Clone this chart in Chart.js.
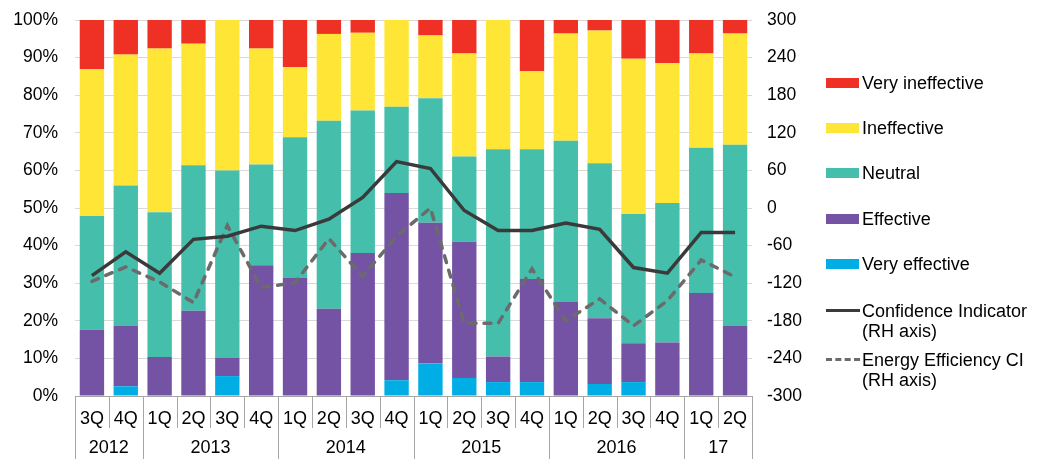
<!DOCTYPE html>
<html>
<head>
<meta charset="utf-8">
<script src="https://cdn.jsdelivr.net/npm/chart.js@4.4.1/dist/chart.umd.min.js"></script>
<style>
  html, body { margin: 0; padding: 0; background: #fff; }
  #wrap { position: relative; width: 1045px; height: 459px; overflow: hidden; }
  #chart { position: absolute; left: 0; top: 0; }
  .legend { position: absolute; left: 0; top: 0; font-family: 'Liberation Sans', Arial, sans-serif; font-size: 18px; color: #000; }
  .item { position: absolute; left: 826px; height: 20px; white-space: nowrap; }
  .sw { position: absolute; left: 0; width: 33px; height: 10px; }
  .ln { position: absolute; left: 0; width: 34px; height: 0; }
  .tx { position: absolute; left: 36px; line-height: 20px; }
</style>
</head>
<body>
<div id="wrap">
  <canvas id="chart" width="1045" height="459"></canvas>
  <div class="legend" id="legend"></div>
</div>
<script>
// Survey period labels
const quarters = ['3Q','4Q','1Q','2Q','3Q','4Q','1Q','2Q','3Q','4Q','1Q','2Q','3Q','4Q','1Q','2Q','3Q','4Q','1Q','2Q'];
const yearLabels = ['2012','2013','2014','2015','2016','17'];
const yearSpans = [2, 4, 4, 4, 4, 2];

// Share of responses (%), stacked from the bottom up
const veryEffective   = [0, 2.6, 0, 0, 5.3, 0, 0, 0, 0, 4.2, 8.7, 4.8, 3.7, 3.7, 0, 3.2, 3.7, 0, 0, 0];
const effective       = [17.6, 16.0, 10.4, 22.7, 4.9, 34.8, 31.4, 23.2, 38.0, 49.8, 37.4, 36.2, 6.8, 27.4, 25.1, 17.5, 10.3, 14.2, 27.4, 18.6];
const neutral         = [30.3, 37.4, 38.5, 38.7, 49.8, 26.8, 37.4, 50.0, 37.9, 22.9, 33.1, 22.7, 55.1, 34.5, 42.8, 41.2, 34.4, 37.1, 38.6, 48.2];
const ineffective     = [39.1, 34.8, 43.5, 32.3, 40.0, 30.8, 18.7, 23.1, 20.7, 23.1, 16.7, 27.4, 34.4, 20.8, 28.5, 35.3, 41.3, 37.2, 25.1, 29.6];
const veryIneffective = [13.0, 9.2, 7.6, 6.3, 0, 7.6, 12.5, 3.7, 3.4, 0, 4.1, 8.9, 0, 13.6, 3.6, 2.8, 10.3, 11.5, 8.9, 3.6];

// Indicators on the right-hand axis
const confidenceIndicator = [-108, -70, -104, -50, -45, -29, -36, -18, 17, 74, 63, -4, -36, -36, -24, -34, -95, -104, -39, -39];
const energyEfficiencyCI  = [-117, -94, -118, -151, -28, -127, -119, -49, -109, -45, 0, -184, -184, -97, -180, -145, -188, -148, -83, -110];

// Axis tick ranges
const leftTicks = { min: 0, max: 100, step: 10 };
const rightTicks = { min: -300, max: 300, step: 60 };

const COLORS = {
  veryIneffective: '#EE3124',
  ineffective: '#FFE636',
  neutral: '#45BEAC',
  effective: '#7553A4',
  veryEffective: '#00AEE5',
  ci: '#3a3a3a',
  eeci: '#6b6b6b'
};

const FONT = "'Liberation Sans', Arial, sans-serif";
Chart.defaults.font.family = FONT;
Chart.defaults.font.size = 17.5;
Chart.defaults.color = '#000';

// Two-level category axis: quarters with year groups underneath
const groupedAxis = {
  id: 'groupedAxis',
  afterDraw(chart) {
    const xs = chart.scales.x;
    const ctx = chart.ctx;
    const n = quarters.length;
    const step = (xs.right - xs.left) / n;
    const top = chart.chartArea.bottom;
    const qBottom = top + 32;
    const bottom = chart.height;
    ctx.save();
    ctx.strokeStyle = '#a6a6a6';
    ctx.lineWidth = 1;
    // baseline
    ctx.beginPath();
    ctx.moveTo(xs.left, top + 0.5);
    ctx.lineTo(xs.right, top + 0.5);
    ctx.stroke();
    // quarter and year separators
    const yearBounds = new Set([0]);
    let acc = 0;
    yearSpans.forEach(s => { acc += s; yearBounds.add(acc); });
    for (let k = 0; k <= n; k++) {
      const x = Math.round(xs.left + k * step) + 0.5;
      ctx.beginPath();
      ctx.moveTo(x, top);
      ctx.lineTo(x, yearBounds.has(k) ? bottom : qBottom);
      ctx.stroke();
    }
    ctx.fillStyle = '#000';
    ctx.font = '18px ' + FONT;
    ctx.textAlign = 'center';
    ctx.textBaseline = 'middle';
    quarters.forEach((q, i) => {
      ctx.fillText(q, xs.getPixelForValue(i), top + 23);
    });
    let start = 0;
    yearLabels.forEach((y, j) => {
      const end = start + yearSpans[j];
      const cx = xs.left + (start + end) / 2 * step;
      ctx.fillText(y, cx, top + 52);
      start = end;
    });
    ctx.restore();
  }
};

const barCommon = { stack: 'resp', yAxisID: 'y', order: 2, borderWidth: 0, barPercentage: 0.72, categoryPercentage: 1.0 };

new Chart(document.getElementById('chart'), {
  type: 'bar',
  data: {
    labels: quarters,
    datasets: [
      Object.assign({ label: 'Very effective', data: veryEffective, backgroundColor: COLORS.veryEffective }, barCommon),
      Object.assign({ label: 'Effective', data: effective, backgroundColor: COLORS.effective }, barCommon),
      Object.assign({ label: 'Neutral', data: neutral, backgroundColor: COLORS.neutral }, barCommon),
      Object.assign({ label: 'Ineffective', data: ineffective, backgroundColor: COLORS.ineffective }, barCommon),
      Object.assign({ label: 'Very ineffective', data: veryIneffective, backgroundColor: COLORS.veryIneffective }, barCommon),
      {
        type: 'line', label: 'Energy Efficiency CI (RH axis)', data: energyEfficiencyCI, yAxisID: 'y1', order: 1,
        borderColor: COLORS.eeci, borderWidth: 3.5, borderDash: [7, 8], borderCapStyle: 'round',
        pointRadius: 0, tension: 0, fill: false
      },
      {
        type: 'line', label: 'Confidence Indicator (RH axis)', data: confidenceIndicator, yAxisID: 'y1', order: 0,
        borderColor: COLORS.ci, borderWidth: 3.5, borderJoinStyle: 'miter',
        pointRadius: 0, tension: 0, fill: false
      }
    ]
  },
  options: {
    responsive: false,
    animation: false,
    devicePixelRatio: 1,
    layout: { padding: { top: 20, left: 0, right: 0, bottom: 0 } },
    plugins: { legend: { display: false }, tooltip: { enabled: false } },
    scales: {
      x: {
        stacked: true,
        grid: { display: false },
        border: { display: false },
        ticks: { display: false },
        afterFit(scale) { scale.height = 63; }
      },
      y: {
        stacked: true,
        position: 'left',
        min: leftTicks.min, max: leftTicks.max,
        ticks: { stepSize: leftTicks.step, padding: 17, callback: v => v + '%' },
        grid: { color: '#d9d9d9', drawTicks: false },
        border: { display: false },
        afterFit(scale) { scale.width = 75; scale.paddingTop = 0; scale.paddingBottom = 0; }
      },
      y1: {
        stacked: false,
        position: 'right',
        min: rightTicks.min, max: rightTicks.max,
        ticks: { stepSize: rightTicks.step, padding: 15 },
        grid: { display: false, drawTicks: false },
        border: { display: false },
        afterFit(scale) { scale.width = 293; scale.paddingTop = 0; scale.paddingBottom = 0; }
      }
    }
  },
  plugins: [groupedAxis]
});

// Legend at the right
const legendItems = [
  { kind: 'box', color: COLORS.veryIneffective, lines: ['Very ineffective'], y: 83 },
  { kind: 'box', color: COLORS.ineffective, lines: ['Ineffective'], y: 128 },
  { kind: 'box', color: COLORS.neutral, lines: ['Neutral'], y: 173 },
  { kind: 'box', color: COLORS.effective, lines: ['Effective'], y: 219 },
  { kind: 'box', color: COLORS.veryEffective, lines: ['Very effective'], y: 264 },
  { kind: 'solid', color: COLORS.ci, lines: ['Confidence Indicator', '(RH axis)'], y: 311 },
  { kind: 'dash', color: COLORS.eeci, lines: ['Energy Efficiency CI', '(RH axis)'], y: 360 }
];
const legend = document.getElementById('legend');
legendItems.forEach(it => {
  const d = document.createElement('div');
  d.className = 'item';
  d.style.top = (it.y - 10) + 'px';
  const m = document.createElement('div');
  if (it.kind === 'box') {
    m.className = 'sw';
    m.style.top = '5px';
    m.style.background = it.color;
  } else {
    m.className = 'ln';
    m.style.top = '8px';
    m.style.borderTop = '3.5px ' + (it.kind === 'dash' ? 'dashed ' : 'solid ') + it.color;
  }
  d.appendChild(m);
  const t = document.createElement('div');
  t.className = 'tx';
  t.innerHTML = it.lines.join('<br>');
  t.style.top = '0px';
  d.appendChild(t);
  legend.appendChild(d);
});
</script>
</body>
</html>
